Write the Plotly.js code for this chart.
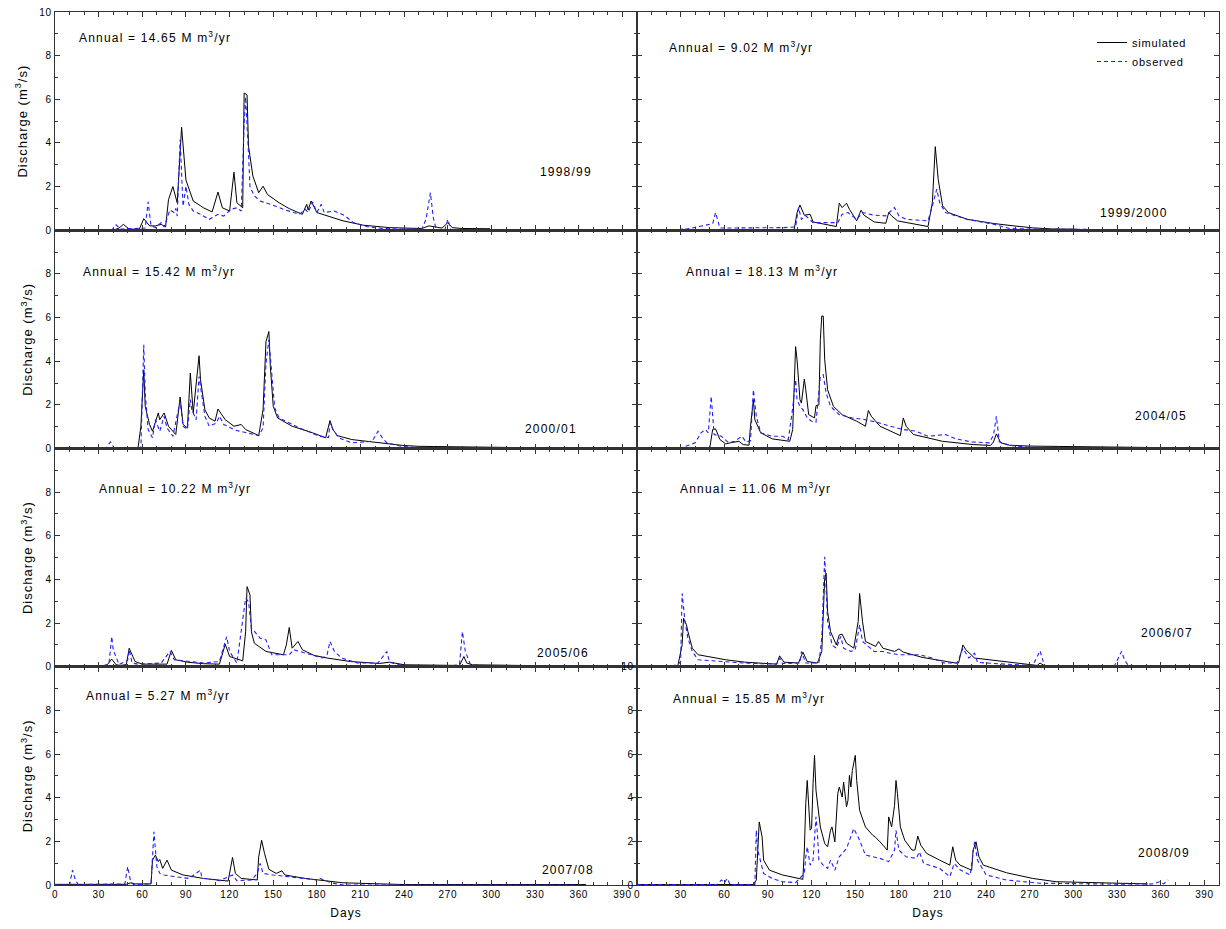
<!DOCTYPE html>
<html>
<head>
<meta charset="utf-8">
<script src="https://cdn.plot.ly/plotly-3.0.1.min.js"></script>
<style>
html,body{margin:0;padding:0;background:#fff;}
#chart{width:1226px;height:929px;}
#chart .annotation-text{letter-spacing:1.2px;}
#chart g[class*="tick"] text{letter-spacing:0.6px;}
#chart text[class*="title"]{letter-spacing:1px;}
#chart .legendtext{letter-spacing:0.8px;}
</style>
</head>
<body>
<div id="chart"></div>
<script>
// ---------- DATA (day of hydrological year, discharge m3/s) ----------
var years = ["1998/99", "1999/2000", "2000/01", "2004/05", "2005/06", "2006/07", "2007/08", "2008/09"];
var annualTotals = ["14.65", "9.02", "15.42", "18.13", "10.22", "11.06", "5.27", "15.85"];
var xTickVals = [0, 30, 60, 90, 120, 150, 180, 210, 240, 270, 300, 330, 360, 390];

// 1998/99
var sim1Days = [0, 40, 44, 47, 51, 58, 61, 65, 69, 73, 76, 78, 81, 84, 87, 88, 90, 95, 102, 108, 112, 115, 120, 123, 125, 129, 130, 132, 133, 136, 140, 143, 146, 154, 161, 170, 173, 174, 176, 180, 184, 198, 212, 230, 252, 257, 266, 270, 273, 280, 299];
var sim1Q = [0, 0, 0.1, 0.27, 0.05, 0.05, 0.53, 0.2, 0.2, 0.27, 0.15, 1.4, 2.0, 1.26, 4.72, 3.85, 2.3, 1.34, 1.03, 0.84, 1.75, 1.03, 0.88, 2.66, 1.26, 1.03, 6.29, 6.2, 3.85, 2.48, 1.72, 2.02, 1.64, 1.26, 0.99, 0.73, 1.19, 0.93, 1.34, 0.81, 0.73, 0.43, 0.23, 0.12, 0.08, 0.2, 0.1, 0.35, 0.12, 0.08, 0.07];
var obs1Days = [0, 39, 42, 45, 62, 64, 66, 69, 73, 75, 79, 82, 83, 84, 86, 87, 88, 90, 92, 95, 100, 106, 112, 116, 121, 125, 128, 130, 131, 133, 134, 137, 141, 148, 157, 168, 172, 174, 177, 180, 183, 185, 192, 199, 205, 214, 225, 240, 252, 255, 258, 260, 262, 268, 270, 272, 365];
var obs1Q = [0, 0, 0.25, 0.05, 0.1, 1.3, 0.2, 0.12, 0.35, 0.15, 0.93, 0.8, 1.0, 0.65, 4.15, 2.6, 1.1, 2.02, 1.19, 0.88, 0.73, 0.5, 0.73, 0.65, 0.96, 1.03, 0.88, 4.9, 6.1, 3.5, 2.0, 1.57, 1.34, 1.19, 0.96, 0.73, 0.96, 0.81, 1.3, 0.81, 1.19, 0.81, 0.88, 0.68, 0.35, 0.17, 0.08, 0.05, 0.05, 0.5, 1.72, 0.58, 0.03, 0.03, 0.5, 0.03, 0.02];

// 1999/2000
var sim2Days = [0, 108, 110, 112, 115, 119, 121, 137, 139, 141, 144, 146, 151, 154, 156, 163, 171, 173, 175, 179, 200, 203, 205, 207, 210, 214, 227, 245, 259, 272, 285, 302];
var sim2Q = [0.02, 0.02, 0.8, 1.16, 0.69, 0.73, 0.38, 0.17, 1.24, 1.04, 1.24, 0.96, 0.43, 0.92, 0.69, 0.38, 0.32, 0.81, 0.66, 0.43, 0.17, 1.27, 3.83, 2.34, 1.12, 0.81, 0.5, 0.31, 0.2, 0.11, 0.06, 0.05];
var obs2Days = [0, 30, 32, 34, 52, 54, 57, 80, 100, 109, 111, 113, 116, 121, 138, 141, 145, 151, 155, 163, 171, 177, 180, 185, 200, 203, 206, 208, 212, 227, 245, 256, 272, 365];
var obs2Q = [0.02, 0.02, 0.1, 0.05, 0.3, 0.81, 0.1, 0.1, 0.12, 0.15, 1.04, 0.5, 0.66, 0.35, 0.35, 0.73, 0.81, 0.5, 0.81, 0.69, 0.66, 1.04, 0.66, 0.5, 0.43, 1.12, 1.88, 1.27, 0.81, 0.5, 0.28, 0.08, 0.05, 0.02];

// 2000/01
var sim3Days = [0, 57, 59, 61, 62, 65, 67, 71, 72, 75, 78, 83, 86, 88, 91, 93, 95, 99, 100, 103, 106, 110, 112, 117, 123, 128, 131, 140, 143, 145, 147, 148, 150, 153, 163, 177, 186, 189, 191, 194, 204, 218, 239, 250, 285, 310];
var sim3Q = [0, 0, 1.0, 3.6, 1.93, 1.1, 0.79, 1.63, 1.32, 1.63, 1.02, 0.64, 2.36, 1.1, 0.94, 3.46, 1.63, 4.25, 3.15, 1.78, 1.4, 1.25, 1.81, 1.32, 1.02, 1.1, 0.87, 0.59, 1.78, 4.9, 5.36, 3.76, 1.93, 1.4, 1.02, 0.72, 0.49, 1.28, 0.87, 0.59, 0.41, 0.29, 0.14, 0.1, 0.08, 0.05];
var obs3Days = [0, 35, 38, 41, 59, 61, 62, 64, 67, 69, 72, 75, 77, 81, 86, 88, 91, 93, 94, 97, 99, 100, 103, 106, 111, 113, 116, 124, 140, 143, 145, 147, 149, 151, 154, 168, 182, 188, 189, 191, 195, 204, 218, 222, 225, 228, 238, 250, 365];
var obs3Q = [0, 0, 0.3, 0, 0, 4.75, 2.54, 0.87, 0.49, 1.32, 0.79, 1.48, 0.94, 0.56, 2.16, 1.02, 0.87, 2.24, 1.78, 1.32, 3.3, 2.85, 1.48, 1.02, 1.17, 1.48, 1.1, 0.84, 0.59, 0.94, 3.9, 4.98, 3.3, 1.86, 1.4, 0.94, 0.56, 0.5, 1.17, 0.87, 0.49, 0.26, 0.33, 0.79, 0.49, 0.26, 0.1, 0.03, 0.02];

// 2004/05
var sim4Days = [0, 50, 52, 54, 57, 61, 64, 68, 70, 73, 77, 78, 80, 81, 85, 93, 105, 107, 109, 110, 112, 113, 115, 116, 118, 122, 123, 125, 126, 127, 128, 129, 131, 135, 141, 151, 157, 159, 161, 167, 181, 183, 185, 190, 210, 231, 243, 245, 247, 250, 256, 270, 349];
var sim4Q = [0.02, 0.02, 0.87, 0.9, 0.41, 0.21, 0.26, 0.29, 0.33, 0.18, 0.15, 1.02, 2.24, 1.32, 0.72, 0.44, 0.33, 0.87, 4.67, 4.06, 2.24, 2.08, 3.18, 2.69, 1.55, 1.4, 1.96, 2.0, 4.98, 6.07, 6.07, 4.06, 2.69, 1.93, 1.55, 1.25, 1.02, 1.74, 1.48, 1.02, 0.59, 1.4, 1.02, 0.64, 0.33, 0.18, 0.14, 0.3, 0.67, 0.26, 0.15, 0.11, 0.05];
var obs4Days = [0, 30, 40, 44, 47, 49, 51, 52, 53, 58, 63, 67, 72, 75, 78, 80, 82, 85, 93, 100, 104, 107, 109, 110, 112, 114, 117, 120, 123, 126, 128, 130, 133, 139, 148, 157, 165, 174, 183, 192, 200, 212, 219, 230, 242, 245, 247, 249, 256, 270, 365];
var obs4Q = [0.02, 0.02, 0.26, 0.72, 0.87, 0.72, 2.39, 1.63, 0.64, 0.56, 0.26, 0.33, 0.56, 0.3, 0.35, 2.69, 1.48, 0.72, 0.56, 0.56, 0.41, 1.86, 3.15, 2.24, 1.93, 1.78, 1.4, 1.25, 1.2, 3.3, 3.38, 2.54, 1.93, 1.55, 1.4, 1.32, 1.2, 1.02, 0.87, 0.79, 0.56, 0.64, 0.44, 0.3, 0.26, 0.6, 1.48, 0.3, 0.15, 0.05, 0.02];

// 2005/06
var sim5Days = [0, 32, 36, 39, 42, 45, 49, 51, 55, 60, 77, 80, 83, 91, 102, 113, 117, 120, 129, 131, 132, 134, 135, 137, 145, 157, 159, 161, 163, 167, 170, 178, 187, 203, 223, 230, 240, 270, 278, 281, 283, 287, 298, 365];
var sim5Q = [0.03, 0.03, 0.1, 0.35, 0.09, 0.06, 0.1, 0.85, 0.24, 0.12, 0.12, 0.75, 0.32, 0.21, 0.14, 0.12, 1.03, 0.47, 0.27, 1.6, 3.67, 3.29, 1.6, 1.08, 0.7, 0.55, 1.0, 1.8, 0.85, 1.16, 0.78, 0.52, 0.4, 0.24, 0.15, 0.21, 0.09, 0.06, 0.06, 0.47, 0.17, 0.09, 0.08, 0.02];
var obs5Days = [0, 33, 37, 39, 40, 42, 44, 50, 51, 53, 57, 73, 79, 82, 91, 102, 113, 118, 120, 125, 131, 133, 135, 141, 145, 149, 155, 161, 164, 172, 184, 187, 189, 192, 197, 208, 222, 228, 230, 240, 270, 278, 280, 282, 286, 365];
var obs5Q = [0.02, 0.02, 0.1, 1.38, 0.78, 0.4, 0.1, 0.3, 0.78, 0.17, 0.12, 0.17, 0.7, 0.32, 0.24, 0.17, 0.24, 1.38, 0.7, 0.17, 3.14, 2.98, 1.77, 1.31, 1.23, 0.55, 0.55, 0.55, 0.78, 0.62, 0.4, 0.55, 1.16, 0.7, 0.4, 0.17, 0.17, 0.7, 0.2, 0.05, 0.02, 0.1, 1.61, 0.7, 0.02, 0.02];

// 2006/07
var sim6Days = [0, 28, 31, 32, 34, 35, 38, 42, 61, 74, 96, 98, 101, 111, 114, 117, 124, 127, 129, 130, 131, 133, 137, 139, 141, 144, 149, 152, 153, 155, 157, 164, 166, 169, 177, 180, 183, 196, 219, 221, 224, 226, 232, 259, 275, 277, 280, 365];
var sim6Q = [0.02, 0.02, 1.0, 2.22, 1.92, 1.61, 0.85, 0.55, 0.32, 0.21, 0.12, 0.5, 0.21, 0.17, 0.67, 0.24, 0.17, 0.7, 4.05, 4.28, 2.53, 1.61, 1.0, 1.46, 1.49, 1.08, 0.85, 2.07, 3.36, 2.07, 1.16, 0.93, 1.16, 0.85, 0.7, 0.82, 0.67, 0.43, 0.17, 0.17, 1.0, 0.78, 0.4, 0.17, 0.06, 0.17, 0.05, 0.02];
var obs6Days = [0, 22, 28, 30, 31, 33, 35, 38, 42, 61, 74, 96, 98, 100, 112, 113, 116, 125, 127, 129, 130, 131, 134, 137, 140, 142, 147, 150, 153, 155, 163, 169, 174, 180, 194, 203, 211, 220, 224, 228, 232, 234, 245, 272, 277, 280, 328, 333, 335, 338, 365];
var obs6Q = [0.02, 0.02, 0.1, 0.24, 3.36, 2.07, 1.31, 0.7, 0.32, 0.24, 0.17, 0.12, 0.4, 0.15, 0.17, 0.7, 0.17, 0.17, 1.31, 5.04, 3.6, 2.07, 1.0, 0.85, 1.39, 0.85, 0.7, 0.78, 1.92, 1.16, 0.7, 0.7, 0.62, 0.55, 0.55, 0.4, 0.17, 0.17, 0.85, 0.4, 0.62, 0.2, 0.15, 0.05, 0.73, 0.05, 0.02, 0.7, 0.32, 0.02, 0.02];

// 2007/08
var sim7Days = [0, 49, 52, 55, 66, 67, 69, 71, 72, 74, 77, 80, 88, 102, 119, 121, 122, 124, 128, 139, 140, 142, 144, 147, 152, 156, 158, 172, 186, 198, 209, 234, 240, 365];
var sim7Q = [0.03, 0.03, 0.1, 0.05, 0.05, 1.14, 1.37, 1.07, 1.17, 0.76, 1.14, 0.68, 0.46, 0.3, 0.18, 0.84, 1.26, 0.53, 0.3, 0.23, 1.29, 2.05, 1.45, 0.72, 0.53, 0.65, 0.46, 0.3, 0.18, 0.1, 0.08, 0.05, 0.02, 0.02];
var obs7Days = [0, 10, 12, 14, 16, 48, 50, 52, 54, 66, 68, 70, 72, 75, 83, 92, 100, 101, 103, 113, 122, 125, 135, 139, 141, 143, 150, 162, 172, 180, 182, 190, 198, 203, 365];
var obs7Q = [0, 0, 0.68, 0.23, 0.02, 0.05, 0.84, 0.15, 0.02, 0.05, 2.44, 0.84, 0.53, 0.46, 0.38, 0.3, 0.68, 0.3, 0.3, 0.2, 0.46, 0.2, 0.23, 0.53, 0.99, 0.53, 0.46, 0.38, 0.3, 0.23, 0.3, 0.1, 0, 0, 0];

// 2008/09
var sim8Days = [0, 80, 82, 83, 84, 86, 87, 91, 100, 114, 115, 116, 117, 119, 120, 121, 122, 123, 126, 129, 131, 133, 134, 136, 137, 138, 139, 141, 142, 144, 145, 146, 147, 148, 150, 151, 153, 157, 162, 164, 167, 172, 173, 175, 177, 178, 179, 181, 184, 189, 191, 193, 195, 199, 208, 215, 217, 219, 222, 230, 231, 233, 235, 238, 254, 272, 288, 330, 351];
var sim8Q = [0.02, 0.02, 0.23, 1.9, 2.89, 2.2, 1.14, 0.68, 0.46, 0.26, 1.6, 3.73, 4.79, 2.51, 2.6, 4.64, 5.94, 4.34, 2.66, 1.9, 1.75, 2.51, 2.66, 1.98, 3.12, 4.19, 4.49, 4.03, 4.72, 3.58, 3.88, 5.02, 4.49, 5.25, 5.94, 4.79, 3.42, 2.66, 2.28, 2.18, 1.98, 1.6, 3.12, 2.66, 3.65, 4.79, 4.19, 2.66, 2.05, 1.6, 1.6, 2.24, 1.83, 1.45, 1.14, 0.91, 1.75, 1.14, 0.91, 0.68, 1.6, 1.98, 1.29, 0.91, 0.56, 0.3, 0.15, 0.08, 0.05];
var obs8Days = [0, 55, 58, 60, 62, 64, 81, 82, 83, 85, 87, 93, 100, 109, 115, 116, 117, 119, 121, 123, 124, 125, 128, 131, 133, 136, 139, 144, 149, 153, 157, 167, 173, 177, 178, 180, 185, 192, 194, 197, 208, 215, 218, 222, 229, 232, 234, 240, 254, 277, 300, 330, 355, 359, 362, 365];
var obs8Q = [0.02, 0.02, 0.23, 0.1, 0.3, 0.02, 0.02, 2.51, 1.6, 0.99, 0.53, 0.3, 0.15, 0.11, 0.53, 1.29, 1.75, 0.91, 1.14, 3.12, 2.36, 1.14, 0.91, 0.76, 1.14, 0.68, 1.29, 1.67, 2.59, 2.05, 1.37, 1.22, 1.07, 1.6, 2.51, 1.6, 1.29, 1.22, 1.52, 0.99, 0.76, 0.38, 0.99, 0.7, 0.46, 1.98, 1.14, 0.46, 0.23, 0.08, 0.05, 0.04, 0.05, 0.15, 0.05, 0.23];

var simDays = [sim1Days, sim2Days, sim3Days, sim4Days, sim5Days, sim6Days, sim7Days, sim8Days];
var simQ = [sim1Q, sim2Q, sim3Q, sim4Q, sim5Q, sim6Q, sim7Q, sim8Q];
var obsDays = [obs1Days, obs2Days, obs3Days, obs4Days, obs5Days, obs6Days, obs7Days, obs8Days];
var obsQ = [obs1Q, obs2Q, obs3Q, obs4Q, obs5Q, obs6Q, obs7Q, obs8Q];

// ---------- LAYOUT ----------
var W = 1226, H = 929, ML = 55, MR = 7, MT = 12, MB = 44;
var PW = W - ML - MR, PH = H - MT - MB;
function px(x) { return (x - ML) / PW; }
function py(y) { return (H - MB - y) / PH; }

var FONT = "Liberation Sans, Arial, sans-serif";
var axisCol = "#333333";

var colOf = [0, 1, 0, 1, 0, 1, 0, 1];
var rowOf = [0, 0, 1, 1, 2, 2, 3, 3];
var annualPos = [[77, 37], [667, 47], [81, 271], [684, 271], [97, 488], [678, 488], [84, 695], [671, 698]];
var yearPos = [[538, 172], [1098, 213], [523, 429], [1133, 416], [535, 653], [1139, 633], [540, 870], [1136, 853]];

var traces = [];
var layout = {
  width: W, height: H,
  margin: {l: ML, r: MR, t: MT, b: MB, pad: 0},
  paper_bgcolor: "#ffffff", plot_bgcolor: "#ffffff",
  font: {family: FONT, size: 10, color: "#000"},
  showlegend: true,
  legend: {x: px(1092), y: py(28), xanchor: "left", yanchor: "top",
           bgcolor: "rgba(0,0,0,0)", borderwidth: 0,
           font: {family: FONT, size: 11, color: "#000"}, tracegroupgap: 0, itemwidth: 30},
  annotations: []
};

for (var i = 0; i < 8; i++) {
  var n = i + 1;
  var xa = n === 1 ? "x" : "x" + n, ya = n === 1 ? "y" : "y" + n;
  var col = colOf[i], row = rowOf[i];
  traces.push({x: simDays[i], y: simQ[i], xaxis: xa, yaxis: ya, type: "scatter", mode: "lines",
    name: "simulated", showlegend: i === 1, line: {color: "#000000", width: 1}, hoverinfo: "skip"});
  traces.push({x: obsDays[i], y: obsQ[i], xaxis: xa, yaxis: ya, type: "scatter", mode: "lines",
    name: "observed", showlegend: i === 1, line: {color: "#1f1fff", width: 1.1, dash: "4px,3px"}, hoverinfo: "skip"});

  var bottom = row === 3;
  var xaxis = {
    domain: col === 0 ? [0, 0.5] : [0.5, 1],
    anchor: ya, range: [0, 400], tickmode: "array", tickvals: xTickVals,
    showticklabels: bottom, ticks: "inside", ticklen: 5, tickwidth: 1, tickcolor: axisCol,
    minor: {dtick: 10, tick0: 0, ticks: "inside", ticklen: 3, tickcolor: axisCol},
    showline: true, linecolor: axisCol, linewidth: 1.4, mirror: "ticks",
    showgrid: false, zeroline: false, fixedrange: true,
    tickfont: {family: FONT, size: 10, color: "#000"}
  };
  if (bottom) xaxis.title = {text: "Days", font: {family: FONT, size: 12, color: "#000"}, standoff: 9};
  var yDomTop = 1 - row * 0.25, yDomBot = yDomTop - 0.25;
  var showY = (col === 0) || (n === 8);
  var ytext = (row === 0 || n === 8) ? ["0", "2", "4", "6", "8", "10"] : ["0", "2", "4", "6", "8", ""];
  var yaxis = {
    domain: [yDomBot, yDomTop], anchor: xa, range: [0, 10],
    tickmode: "array", tickvals: [0, 2, 4, 6, 8, 10], ticktext: ytext,
    showticklabels: showY, ticks: "inside", ticklen: 5, tickwidth: 1, tickcolor: axisCol,
    minor: {dtick: 1, tick0: 0, ticks: "inside", ticklen: 3, tickcolor: axisCol},
    showline: true, linecolor: axisCol, linewidth: 1.4, mirror: "ticks",
    showgrid: false, zeroline: false, fixedrange: true,
    tickfont: {family: FONT, size: 10, color: "#000"}
  };
  if (col === 0) yaxis.title = {text: "Discharge (m<sup>3</sup>/s)", font: {family: FONT, size: 13, color: "#000"}, standoff: 10};
  layout[n === 1 ? "xaxis" : "xaxis" + n] = xaxis;
  layout[n === 1 ? "yaxis" : "yaxis" + n] = yaxis;

  layout.annotations.push({xref: "paper", yref: "paper", x: px(annualPos[i][0]), y: py(annualPos[i][1]),
    xanchor: "left", yanchor: "middle", align: "left", showarrow: false,
    text: "Annual = " + annualTotals[i] + " M m<sup>3</sup>/yr", font: {family: FONT, size: 12, color: "#000"}});
  layout.annotations.push({xref: "paper", yref: "paper", x: px(yearPos[i][0]), y: py(yearPos[i][1]),
    xanchor: "left", yanchor: "middle", align: "left", showarrow: false,
    text: years[i], font: {family: FONT, size: 12, color: "#000"}});
}

Plotly.newPlot("chart", traces, layout, {staticPlot: true, displayModeBar: false});
</script>
</body>
</html>
